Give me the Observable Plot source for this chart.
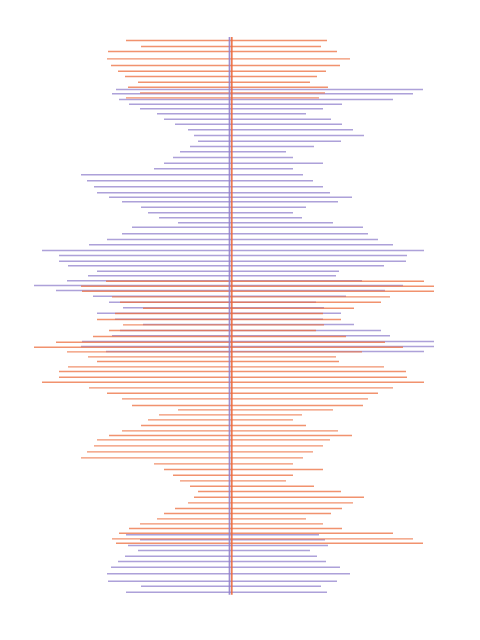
<!DOCTYPE html>
<html>
<head>
<meta charset="utf-8">
<script src="https://cdn.jsdelivr.net/npm/d3@7"></script>
<script src="https://cdn.jsdelivr.net/npm/@observablehq/plot@0.6"></script>
<style>
  html, body { margin: 0; padding: 0; background: #ffffff; }
  svg { display: block; }
</style>
</head>
<body>
<script>
// Row extents (offset from the central axis), shared by both series
const lower = [
  -114, -118, -111, -101, -90, -73, -66, -55, -42, -36,
  -32, -40, -50, -57, -66, -76, -149, -143, -136, -133,
  -121, -108, -89, -82, -71, -52, -98, -108, -123, -141,
  -188, -171, -171, -162, -133, -142, -163, -196, -174, -137,
  -121, -107, -133, -115, -87, -110, -118, -148, -149, -124,
  -104, -90, -102, -92, -105, -112, -119, -123, -122, -89, -104
];
const upper = [
  193, 183, 163, 112, 93, 76, 101, 112, 123, 134,
  111, 84, 56, 63, 93, 63, 73, 83, 93, 100,
  122, 108, 76, 63, 72, 103, 133, 138, 148, 163,
  194, 177, 176, 154, 109, 106, 132, 173, 155, 116,
  86, 94, 111, 93, 124, 151, 160, 204, 204, 194,
  89, 95, 98, 80, 87, 96, 110, 120, 107, 91, 97
];
// Vertical positions of each row for the purple series (counted downward)
const purplePos = [
  89, 93.3, 99, 103.7, 108.3, 113.3, 118.7, 123.7, 129.3, 135,
  140.7, 146, 151.3, 157, 162.7, 168.3, 174.3, 180.3, 186.3, 192.3,
  196.7, 201.3, 206.7, 212.3, 217.3, 222.3, 226.7, 233.3, 239, 244.3,
  250, 255, 260.7, 265.3, 270.7, 275.3, 280.3, 285, 290, 295.7,
  301.7, 307.3, 312.7, 318.7, 324, 330, 335.3, 341, 346, 351,
  534.3, 539.3, 545, 550, 555.7, 561, 566.7, 573.3, 580.7, 585.7, 591.7
];
// Vertical positions of each row for the orange series (counted downward)
const orangePos = [
  542.7, 538.4, 532.7, 528, 523.4, 518.4, 513, 508, 502.4, 496.7,
  491, 485.7, 480.4, 474.7, 469, 463.4, 457.4, 451.4, 445.4, 439.4,
  435, 430.4, 425, 419.4, 414.4, 409.4, 405, 398.4, 392.7, 387.4,
  381.7, 376.7, 371, 366.4, 361, 356.4, 351.4, 346.7, 341.7, 336,
  330, 324.4, 319, 313, 307.7, 301.7, 296.4, 290.7, 285.7, 280.7,
  97.4, 92.4, 86.7, 81.7, 76, 70.7, 65, 58.4, 51, 46, 40
];
// Axis (centre line) offsets of each series
const axisOffsets = [{series: "purple", x: -1}, {series: "orange", x: 1.3}];

const purpleRows = purplePos.map((p, i) => ({pos: p, lo: lower[i], hi: upper[i]}));
const orangeRows = orangePos.map((p, i) => ({pos: p, lo: lower[i], hi: upper[i]}));
const allPos = purplePos.concat(orangePos);
const [pMin, pMax] = d3.extent(allPos);

const PURPLE = "#9282cc";
const ORANGE = "#ec6d3e";

const chart = Plot.plot({
  width: 480,
  height: 640,
  margin: 0,
  x: {domain: [-230, 250], axis: null},
  y: {domain: [0, 640], reverse: true, axis: null},
  marks: [
    Plot.ruleY(purpleRows, {y: "pos", x1: "lo", x2: "hi", stroke: PURPLE, strokeWidth: 1.4, strokeOpacity: 0.75}),
    Plot.ruleY(orangeRows, {y: "pos", x1: "lo", x2: "hi", stroke: ORANGE, strokeWidth: 1.4, strokeOpacity: 0.75}),
    Plot.ruleX(axisOffsets, {x: "x", y1: pMin - 3, y2: pMax + 3,
      stroke: d => d.series === "purple" ? PURPLE : ORANGE, strokeWidth: 1.7, strokeOpacity: 0.9})
  ]
});

document.body.appendChild(chart);
</script>
</body>
</html>
